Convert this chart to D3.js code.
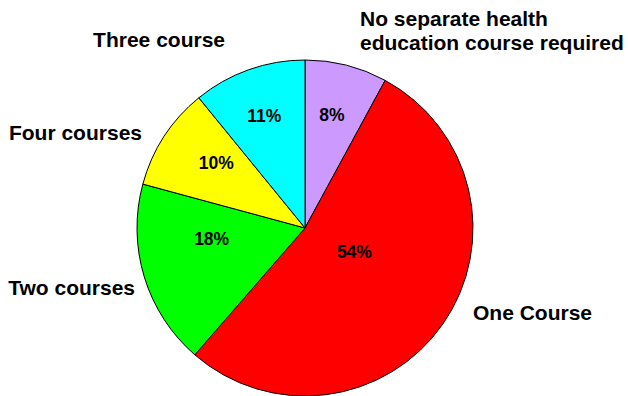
<!DOCTYPE html>
<html>
<head>
<meta charset="utf-8">
<script src="https://cdn.jsdelivr.net/npm/d3@7"></script>
<style>
  html, body { margin: 0; padding: 0; background: #fff; }
  svg { display: block; }
  text { font-family: "Liberation Sans", Arial, sans-serif; font-weight: bold; fill: #000; }
</style>
</head>
<body>
<svg id="chart" width="628" height="396"></svg>
<script>
// Share of schools by number of required health education courses
const categories = [
  "No separate health education course required",
  "One Course",
  "Two courses",
  "Four courses",
  "Three course"
];
const shares = [8, 54, 18, 10, 11];
const sliceColors = ["#CC99FF", "#FF0000", "#00FF00", "#FFFF00", "#00FFFF"];

// Layout: pie geometry and label placement
const cx = 305, cy = 228, radius = 168;

// Percent label: position along the slice's angular span (t) and distance from centre (r)
const pctPlacement = [
  { t: 0.47, r: 116 },
  { t: 0.455, r: 55 },
  { t: 0.66, r: 94 },
  { t: 0.59, r: 110 },
  { t: 0.49, r: 119 }
];

// Category labels: offset from the pie centre, text anchor, and line breaks
const namePlacement = [
  { dx: 55, dy: -202, anchor: "start", lines: ["No separate health", "education course required"] },
  { dx: 168, dy: 92, anchor: "start" },
  { dx: -170, dy: 67, anchor: "end" },
  { dx: -163, dy: -88, anchor: "end" },
  { dx: -80, dy: -181, anchor: "end" }
];

const svg = d3.select("#chart");
const g = svg.append("g").attr("transform", `translate(${cx},${cy})`);

const pie = d3.pie().sort(null).value(d => d);
const arcs = pie(shares);
const arc = d3.arc().innerRadius(0).outerRadius(radius);
const color = d3.scaleOrdinal().domain(categories).range(sliceColors);

g.selectAll("path.slice")
  .data(arcs)
  .join("path")
  .attr("class", "slice")
  .attr("d", arc)
  .attr("fill", (d, i) => color(categories[i]))
  .attr("stroke", "#000")
  .attr("stroke-width", 1)
  .attr("stroke-linejoin", "round");

// Percentage labels inside the slices
g.selectAll("text.pct")
  .data(arcs)
  .join("text")
  .attr("class", "pct")
  .attr("text-anchor", "middle")
  .attr("font-size", 17.5)
  .attr("x", (d, i) => {
    const p = pctPlacement[i];
    const a = d.startAngle + (d.endAngle - d.startAngle) * p.t;
    return p.r * Math.sin(a);
  })
  .attr("y", (d, i) => {
    const p = pctPlacement[i];
    const a = d.startAngle + (d.endAngle - d.startAngle) * p.t;
    return -p.r * Math.cos(a) + 6;
  })
  .text(d => `${d.data}%`);

// Category names around the pie
categories.forEach((name, i) => {
  const p = namePlacement[i];
  const lines = p.lines || [name];
  const t = g.append("text")
    .attr("class", "name")
    .attr("text-anchor", p.anchor)
    .attr("font-size", 21)
    .attr("x", p.dx)
    .attr("y", p.dy);
  lines.forEach((ln, j) => {
    t.append("tspan")
      .attr("x", p.dx)
      .attr("dy", j === 0 ? 0 : 24)
      .text(ln);
  });
});
</script>
</body>
</html>
